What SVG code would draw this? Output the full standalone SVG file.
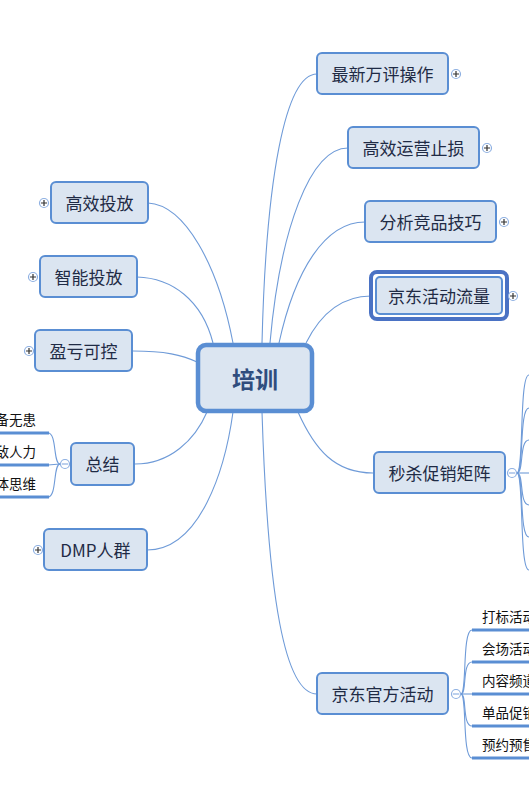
<svg xmlns="http://www.w3.org/2000/svg" width="529" height="788" viewBox="0 0 529 788">
<style>
.box{fill:#dbe5f1;stroke:#5a8ed3;stroke-width:2}
.t{font-family:"Noto Sans CJK SC","Liberation Sans",sans-serif;font-size:17px;fill:#1f2b45;text-anchor:middle;dominant-baseline:central}
.ct{font-family:"Noto Sans CJK SC","Liberation Sans",sans-serif;font-size:13.5px;fill:#111}
.c{fill:none;stroke:#6f9bd8;stroke-width:1.1}
.ul{stroke:#5a8ed3;stroke-width:3}
.tog{fill:#fff;stroke:#8eb0e2;stroke-width:1.2}
.sign{stroke:#333;stroke-width:1.2}
.msign{stroke:#8eb0e2;stroke-width:1.2}
</style>
<rect width="529" height="788" fill="#fff"/>
<g id="connectors">
<path class="c" d="M148,203 C185,205 218,265 233,343"/>
<path class="c" d="M137,277 C172,278 202,300 213,343"/>
<path class="c" d="M133,351 C165,351 182,355 197,362"/>
<path class="c" d="M135,464 C170,464 195,440 207,412"/>
<path class="c" d="M147,550 C200,550 225,470 233,412"/>
<path class="c" d="M262,343 C266,180 285,74 317,74"/>
<path class="c" d="M270,343 C280,230 310,148 348,148"/>
<path class="c" d="M279,343 C295,270 325,222 365,222"/>
<path class="c" d="M306,343 C320,315 340,296 371,296"/>
<path class="c" d="M298,412 C315,450 335,473 373,473"/>
<path class="c" d="M262,412 C268,600 285,694 317,694"/>
<!-- 总结 children -->
<path class="c" d="M60,464 C53,464 57,433 48,433"/>
<path class="c" d="M60,464 L48,465"/>
<path class="c" d="M60,464 C53,464 57,497 48,497"/>
<!-- 秒杀 children -->
<path class="c" d="M517,473 C524,473 519,375 529,375"/>
<path class="c" d="M517,473 C524,473 519,408 529,408"/>
<path class="c" d="M517,473 C524,473 519,440 529,440"/>
<path class="c" d="M517,473 L529,473"/>
<path class="c" d="M517,473 C524,473 519,505 529,505"/>
<path class="c" d="M517,473 C524,473 519,537 529,537"/>
<path class="c" d="M517,473 C524,473 519,570 529,570"/>
<!-- 京东官方活动 children -->
<path class="c" d="M461,694 C467,694 462,630 472,630"/>
<path class="c" d="M461,694 C467,694 462,662 472,662"/>
<path class="c" d="M461,694 L472,694"/>
<path class="c" d="M461,694 C467,694 462,726 472,726"/>
<path class="c" d="M461,694 C467,694 462,758 472,758"/>
</g>
<g id="center">
<rect x="198" y="345" width="114" height="66" rx="8" fill="#dbe5f1" stroke="#5a8ed3" stroke-width="4.5"/>
<text x="255" y="378" class="t" style="font-size:23px;font-weight:bold;fill:#2f4d7e">培训</text>
</g>
<g id="n1"><rect class="box" x="317" y="53" width="131" height="41" rx="5"/><text class="t" x="382.5" y="73.5">最新万评操作</text>
<circle class="tog" cx="456" cy="74" r="4.5"/><path class="sign" d="M453,74h6M456,71v6"/></g>
<g id="n2"><rect class="box" x="348" y="127" width="131" height="41" rx="5"/><text class="t" x="413.5" y="147.5">高效运营止损</text>
<circle class="tog" cx="487" cy="148" r="4.5"/><path class="sign" d="M484,148h6M487,145v6"/></g>
<g id="n3"><rect class="box" x="365" y="201" width="131" height="41" rx="5"/><text class="t" x="430.5" y="221.5">分析竞品技巧</text>
<circle class="tog" cx="504" cy="222" r="4.5"/><path class="sign" d="M501,222h6M504,219v6"/></g>
<g id="n4"><rect x="371" y="272" width="136" height="47" rx="6" fill="#fff" stroke="#4a72c4" stroke-width="4"/>
<rect x="376" y="277" width="126" height="37" rx="4" fill="#dbe5f1" stroke="#5a8ed3" stroke-width="2"/>
<text class="t" x="439" y="295.5">京东活动流量</text>
<circle class="tog" cx="513" cy="296" r="4.5"/><path class="sign" d="M510,296h6M513,293v6"/></g>
<g id="n5"><rect class="box" x="374" y="452" width="131" height="41" rx="5"/><text class="t" x="439.5" y="472.5">秒杀促销矩阵</text>
<circle class="tog" cx="512" cy="473" r="4.5"/><path class="msign" d="M509,473h6"/></g>
<g id="n6"><rect class="box" x="317" y="673" width="131" height="41" rx="5"/><text class="t" x="382.5" y="693.5">京东官方活动</text>
<circle class="tog" cx="456" cy="694" r="4.5"/><path class="msign" d="M453,694h6"/></g>
<g id="n6c">
<text class="ct" x="482" y="622">打标活动</text><path class="ul" d="M472,630H529"/>
<text class="ct" x="482" y="654">会场活动</text><path class="ul" d="M472,662H529"/>
<text class="ct" x="482" y="686">内容频道</text><path class="ul" d="M472,694H529"/>
<text class="ct" x="482" y="718">单品促销</text><path class="ul" d="M472,726H529"/>
<text class="ct" x="482" y="750">预约预售</text><path class="ul" d="M472,758H529"/>
</g>
<g id="l1"><rect class="box" x="51" y="182" width="97" height="41" rx="5"/><text class="t" x="99.5" y="202.5">高效投放</text>
<circle class="tog" cx="44" cy="203" r="4.5"/><path class="sign" d="M41,203h6M44,200v6"/></g>
<g id="l2"><rect class="box" x="40" y="256" width="97" height="41" rx="5"/><text class="t" x="88.5" y="276.5">智能投放</text>
<circle class="tog" cx="33" cy="277" r="4.5"/><path class="sign" d="M30,277h6M33,274v6"/></g>
<g id="l3"><rect class="box" x="35" y="330" width="97" height="41" rx="5"/><text class="t" x="83.5" y="350.5">盈亏可控</text>
<circle class="tog" cx="29" cy="351" r="4.5"/><path class="sign" d="M26,351h6M29,348v6"/></g>
<g id="l4"><rect class="box" x="71" y="443" width="63" height="42" rx="5"/><text class="t" x="102.5" y="463.5">总结</text>
<circle class="tog" cx="65" cy="464" r="4.5"/><path class="msign" d="M62,464h6"/></g>
<g id="l4c">
<text class="ct" x="36" y="425" text-anchor="end">备无患</text><path class="ul" d="M0,433H49"/>
<text class="ct" x="36" y="457" text-anchor="end">敌人力</text><path class="ul" d="M0,465H49"/>
<text class="ct" x="36" y="489" text-anchor="end">体思维</text><path class="ul" d="M0,497H49"/>
</g>
<g id="l5"><rect class="box" x="44" y="529" width="103" height="41" rx="5"/><text class="t" x="95.5" y="549.5">DMP人群</text>
<circle class="tog" cx="38" cy="550" r="4.5"/><path class="sign" d="M35,550h6M38,547v6"/></g>
</svg>
